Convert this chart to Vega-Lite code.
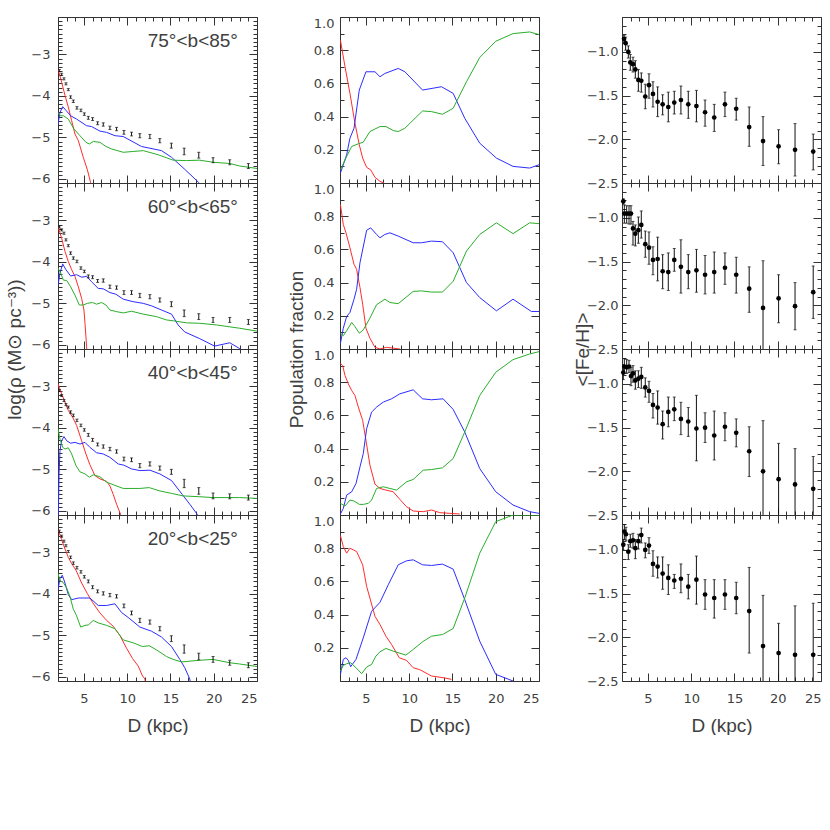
{
"$schema": "https://vega.github.io/schema/vega-lite/v6.json",
"background": "white",
"padding": {"left": 5, "top": 11, "right": 0, "bottom": 0},
"config": {
  "view": {"stroke": null},
  "axis": {"grid": false, "tickSize": -8, "labelOverlap": false, "domainColor": "#333", "tickColor": "#333", "domainWidth": 1, "tickWidth": 1, "labelColor": "#404040", "titleColor": "#404040", "labelFont": "DejaVu Sans", "labelFontSize": 13, "titleFont": "Liberation Sans", "titleFontSize": 19, "titleFontWeight": "normal"},
  "text": {"font": "Liberation Sans"}
},
"datasets": {
"dens": [
{"panel":1,"comp":"thin","D":2.0,"val":-3.35},{"panel":1,"comp":"thin","D":2.42,"val":-3.67},{"panel":1,"comp":"thin","D":2.81,"val":-3.99},{"panel":1,"comp":"thin","D":3.19,"val":-4.27},{"panel":1,"comp":"thin","D":3.58,"val":-4.6},{"panel":1,"comp":"thin","D":3.96,"val":-4.92},{"panel":1,"comp":"thin","D":4.35,"val":-5.08},{"panel":1,"comp":"thin","D":4.92,"val":-5.48},{"panel":1,"comp":"thin","D":5.38,"val":-5.77},{"panel":1,"comp":"thin","D":5.77,"val":-6.09},{"panel":1,"comp":"thin","D":5.85,"val":-6.2},
{"panel":1,"comp":"thick","D":2.0,"val":-4.68},{"panel":1,"comp":"thick","D":2.23,"val":-4.4},{"panel":1,"comp":"thick","D":2.54,"val":-4.26},{"panel":1,"comp":"thick","D":2.92,"val":-4.35},{"panel":1,"comp":"thick","D":3.46,"val":-4.48},{"panel":1,"comp":"thick","D":4.15,"val":-4.56},{"panel":1,"comp":"thick","D":5.31,"val":-4.72},{"panel":1,"comp":"thick","D":5.88,"val":-4.74},{"panel":1,"comp":"thick","D":6.85,"val":-4.85},{"panel":1,"comp":"thick","D":7.62,"val":-4.88},{"panel":1,"comp":"thick","D":8.58,"val":-4.96},{"panel":1,"comp":"thick","D":9.54,"val":-4.98},{"panel":1,"comp":"thick","D":11.65,"val":-5.22},{"panel":1,"comp":"thick","D":13.96,"val":-5.32},{"panel":1,"comp":"thick","D":15.12,"val":-5.48},{"panel":1,"comp":"thick","D":16.65,"val":-5.77},{"panel":1,"comp":"thick","D":18.27,"val":-6.09},{"panel":1,"comp":"thick","D":18.4,"val":-6.2},
{"panel":1,"comp":"halo","D":2.0,"val":-4.4},{"panel":1,"comp":"halo","D":2.23,"val":-4.48},{"panel":1,"comp":"halo","D":2.62,"val":-4.48},{"panel":1,"comp":"halo","D":3.19,"val":-4.56},{"panel":1,"comp":"halo","D":3.85,"val":-4.8},{"panel":1,"comp":"halo","D":4.54,"val":-4.96},{"panel":1,"comp":"halo","D":5.23,"val":-5.12},{"panel":1,"comp":"halo","D":5.62,"val":-5.16},{"panel":1,"comp":"halo","D":6.08,"val":-5.1},{"panel":1,"comp":"halo","D":6.85,"val":-5.12},{"panel":1,"comp":"halo","D":7.54,"val":-5.22},{"panel":1,"comp":"halo","D":8.19,"val":-5.28},{"panel":1,"comp":"halo","D":9.54,"val":-5.36},{"panel":1,"comp":"halo","D":10.69,"val":-5.34},{"panel":1,"comp":"halo","D":11.85,"val":-5.32},{"panel":1,"comp":"halo","D":13.58,"val":-5.42},{"panel":1,"comp":"halo","D":15.31,"val":-5.55},{"panel":1,"comp":"halo","D":16.85,"val":-5.56},{"panel":1,"comp":"halo","D":18.38,"val":-5.55},{"panel":1,"comp":"halo","D":19.92,"val":-5.6},{"panel":1,"comp":"halo","D":21.85,"val":-5.63},{"panel":1,"comp":"halo","D":23.0,"val":-5.69},{"panel":1,"comp":"halo","D":25.0,"val":-5.75},
{"panel":2,"comp":"thin","D":2.0,"val":-3.15},{"panel":2,"comp":"thin","D":2.42,"val":-3.43},{"panel":2,"comp":"thin","D":2.81,"val":-3.75},{"panel":2,"comp":"thin","D":3.19,"val":-3.99},{"panel":2,"comp":"thin","D":3.58,"val":-4.19},{"panel":2,"comp":"thin","D":3.96,"val":-4.35},{"panel":2,"comp":"thin","D":4.35,"val":-4.6},{"panel":2,"comp":"thin","D":4.73,"val":-4.88},{"panel":2,"comp":"thin","D":5.0,"val":-5.16},{"panel":2,"comp":"thin","D":5.12,"val":-5.48},{"panel":2,"comp":"thin","D":5.23,"val":-5.81},{"panel":2,"comp":"thin","D":5.31,"val":-6.05},{"panel":2,"comp":"thin","D":5.35,"val":-6.2},
{"panel":2,"comp":"thick","D":2.0,"val":-4.56},{"panel":2,"comp":"thick","D":2.23,"val":-4.27},{"panel":2,"comp":"thick","D":2.54,"val":-4.05},{"panel":2,"comp":"thick","D":2.92,"val":-4.19},{"panel":2,"comp":"thick","D":3.46,"val":-4.34},{"panel":2,"comp":"thick","D":4.15,"val":-4.31},{"panel":2,"comp":"thick","D":4.73,"val":-4.37},{"panel":2,"comp":"thick","D":5.31,"val":-4.35},{"panel":2,"comp":"thick","D":5.88,"val":-4.48},{"panel":2,"comp":"thick","D":6.65,"val":-4.64},{"panel":2,"comp":"thick","D":7.23,"val":-4.65},{"panel":2,"comp":"thick","D":8.0,"val":-4.74},{"panel":2,"comp":"thick","D":8.69,"val":-4.78},{"panel":2,"comp":"thick","D":9.54,"val":-4.9},{"panel":2,"comp":"thick","D":10.69,"val":-4.96},{"panel":2,"comp":"thick","D":11.85,"val":-5.0},{"panel":2,"comp":"thick","D":12.81,"val":-5.06},{"panel":2,"comp":"thick","D":13.96,"val":-5.16},{"panel":2,"comp":"thick","D":15.12,"val":-5.26},{"panel":2,"comp":"thick","D":15.88,"val":-5.52},{"panel":2,"comp":"thick","D":16.65,"val":-5.69},{"panel":2,"comp":"thick","D":18.38,"val":-5.85},{"panel":2,"comp":"thick","D":20.1,"val":-6.03},{"panel":2,"comp":"thick","D":21.85,"val":-5.95},{"panel":2,"comp":"thick","D":23.0,"val":-6.09},{"panel":2,"comp":"thick","D":24.0,"val":-6.2},
{"panel":2,"comp":"halo","D":2.0,"val":-4.15},{"panel":2,"comp":"halo","D":2.31,"val":-4.27},{"panel":2,"comp":"halo","D":2.62,"val":-4.44},{"panel":2,"comp":"halo","D":3.0,"val":-4.45},{"panel":2,"comp":"halo","D":3.46,"val":-4.6},{"panel":2,"comp":"halo","D":3.96,"val":-4.8},{"panel":2,"comp":"halo","D":4.46,"val":-5.04},{"panel":2,"comp":"halo","D":4.92,"val":-5.04},{"panel":2,"comp":"halo","D":5.38,"val":-5.0},{"panel":2,"comp":"halo","D":6.0,"val":-4.98},{"panel":2,"comp":"halo","D":6.46,"val":-5.02},{"panel":2,"comp":"halo","D":7.04,"val":-4.98},{"panel":2,"comp":"halo","D":7.54,"val":-5.04},{"panel":2,"comp":"halo","D":8.0,"val":-5.16},{"panel":2,"comp":"halo","D":8.77,"val":-5.2},{"panel":2,"comp":"halo","D":9.54,"val":-5.23},{"panel":2,"comp":"halo","D":10.5,"val":-5.19},{"panel":2,"comp":"halo","D":11.85,"val":-5.26},{"panel":2,"comp":"halo","D":13.38,"val":-5.32},{"panel":2,"comp":"halo","D":14.54,"val":-5.4},{"panel":2,"comp":"halo","D":15.31,"val":-5.42},{"panel":2,"comp":"halo","D":16.85,"val":-5.47},{"panel":2,"comp":"halo","D":18.38,"val":-5.48},{"panel":2,"comp":"halo","D":20.31,"val":-5.52},{"panel":2,"comp":"halo","D":23.0,"val":-5.6},{"panel":2,"comp":"halo","D":25.0,"val":-5.67},
{"panel":3,"comp":"thin","D":2.0,"val":-2.94},{"panel":3,"comp":"thin","D":2.42,"val":-3.18},{"panel":3,"comp":"thin","D":2.81,"val":-3.38},{"panel":3,"comp":"thin","D":3.19,"val":-3.58},{"panel":3,"comp":"thin","D":3.69,"val":-3.74},{"panel":3,"comp":"thin","D":4.15,"val":-3.94},{"panel":3,"comp":"thin","D":4.73,"val":-4.31},{"panel":3,"comp":"thin","D":5.23,"val":-4.63},{"panel":3,"comp":"thin","D":5.69,"val":-4.89},{"panel":3,"comp":"thin","D":6.27,"val":-5.15},{"panel":3,"comp":"thin","D":6.85,"val":-5.23},{"panel":3,"comp":"thin","D":7.62,"val":-5.29},{"panel":3,"comp":"thin","D":8.0,"val":-5.4},{"panel":3,"comp":"thin","D":8.38,"val":-5.6},{"panel":3,"comp":"thin","D":8.77,"val":-5.84},{"panel":3,"comp":"thin","D":9.23,"val":-6.08},{"panel":3,"comp":"thin","D":9.3,"val":-6.2},
{"panel":3,"comp":"thick","D":2.0,"val":-6.2},{"panel":3,"comp":"thick","D":2.04,"val":-6.08},{"panel":3,"comp":"thick","D":2.12,"val":-5.11},{"panel":3,"comp":"thick","D":2.23,"val":-4.55},{"panel":3,"comp":"thick","D":2.42,"val":-4.31},{"panel":3,"comp":"thick","D":2.69,"val":-4.21},{"panel":3,"comp":"thick","D":3.0,"val":-4.31},{"panel":3,"comp":"thick","D":3.46,"val":-4.37},{"panel":3,"comp":"thick","D":3.96,"val":-4.35},{"panel":3,"comp":"thick","D":4.54,"val":-4.39},{"panel":3,"comp":"thick","D":5.12,"val":-4.35},{"panel":3,"comp":"thick","D":5.69,"val":-4.47},{"panel":3,"comp":"thick","D":6.46,"val":-4.6},{"panel":3,"comp":"thick","D":7.23,"val":-4.63},{"panel":3,"comp":"thick","D":8.0,"val":-4.71},{"panel":3,"comp":"thick","D":8.96,"val":-4.87},{"panel":3,"comp":"thick","D":9.62,"val":-4.9},{"panel":3,"comp":"thick","D":10.5,"val":-4.99},{"panel":3,"comp":"thick","D":11.46,"val":-5.03},{"panel":3,"comp":"thick","D":12.62,"val":-5.02},{"panel":3,"comp":"thick","D":13.77,"val":-5.11},{"panel":3,"comp":"thick","D":15.12,"val":-5.27},{"panel":3,"comp":"thick","D":16.38,"val":-5.61},{"panel":3,"comp":"thick","D":17.23,"val":-5.84},{"panel":3,"comp":"thick","D":18.08,"val":-6.08},{"panel":3,"comp":"thick","D":18.2,"val":-6.2},
{"panel":3,"comp":"halo","D":2.0,"val":-4.02},{"panel":3,"comp":"halo","D":2.23,"val":-4.27},{"panel":3,"comp":"halo","D":2.54,"val":-4.47},{"panel":3,"comp":"halo","D":2.81,"val":-4.51},{"panel":3,"comp":"halo","D":3.19,"val":-4.48},{"panel":3,"comp":"halo","D":3.58,"val":-4.63},{"panel":3,"comp":"halo","D":4.08,"val":-4.91},{"panel":3,"comp":"halo","D":4.54,"val":-5.06},{"panel":3,"comp":"halo","D":5.12,"val":-5.11},{"panel":3,"comp":"halo","D":5.62,"val":-5.19},{"panel":3,"comp":"halo","D":6.08,"val":-5.13},{"panel":3,"comp":"halo","D":6.85,"val":-5.18},{"panel":3,"comp":"halo","D":7.62,"val":-5.31},{"panel":3,"comp":"halo","D":8.38,"val":-5.37},{"panel":3,"comp":"halo","D":9.54,"val":-5.46},{"panel":3,"comp":"halo","D":11.46,"val":-5.46},{"panel":3,"comp":"halo","D":12.54,"val":-5.44},{"panel":3,"comp":"halo","D":13.77,"val":-5.52},{"panel":3,"comp":"halo","D":15.12,"val":-5.58},{"panel":3,"comp":"halo","D":16.46,"val":-5.64},{"panel":3,"comp":"halo","D":18.38,"val":-5.66},{"panel":3,"comp":"halo","D":19.92,"val":-5.68},{"panel":3,"comp":"halo","D":21.85,"val":-5.68},{"panel":3,"comp":"halo","D":23.0,"val":-5.68},{"panel":3,"comp":"halo","D":25.0,"val":-5.7},
{"panel":4,"comp":"thin","D":2.0,"val":-2.45},{"panel":4,"comp":"thin","D":2.42,"val":-2.69},{"panel":4,"comp":"thin","D":2.81,"val":-2.92},{"panel":4,"comp":"thin","D":3.19,"val":-3.12},{"panel":4,"comp":"thin","D":3.58,"val":-3.27},{"panel":4,"comp":"thin","D":4.08,"val":-3.43},{"panel":4,"comp":"thin","D":4.73,"val":-3.74},{"panel":4,"comp":"thin","D":5.38,"val":-3.99},{"panel":4,"comp":"thin","D":6.0,"val":-4.21},{"panel":4,"comp":"thin","D":6.85,"val":-4.46},{"panel":4,"comp":"thin","D":7.62,"val":-4.64},{"panel":4,"comp":"thin","D":8.38,"val":-4.78},{"panel":4,"comp":"thin","D":9.15,"val":-5.0},{"panel":4,"comp":"thin","D":9.92,"val":-5.31},{"panel":4,"comp":"thin","D":10.62,"val":-5.56},{"panel":4,"comp":"thin","D":11.27,"val":-5.74},{"panel":4,"comp":"thin","D":11.77,"val":-5.98},{"panel":4,"comp":"thin","D":12.04,"val":-6.05},{"panel":4,"comp":"thin","D":12.15,"val":-6.2},
{"panel":4,"comp":"thick","D":2.0,"val":-3.9},{"panel":4,"comp":"thick","D":2.23,"val":-3.63},{"panel":4,"comp":"thick","D":2.5,"val":-3.55},{"panel":4,"comp":"thick","D":2.81,"val":-3.74},{"panel":4,"comp":"thick","D":3.19,"val":-4.02},{"panel":4,"comp":"thick","D":3.58,"val":-4.14},{"panel":4,"comp":"thick","D":4.35,"val":-4.1},{"panel":4,"comp":"thick","D":5.69,"val":-4.1},{"panel":4,"comp":"thick","D":6.65,"val":-4.28},{"panel":4,"comp":"thick","D":7.62,"val":-4.28},{"panel":4,"comp":"thick","D":8.58,"val":-4.24},{"panel":4,"comp":"thick","D":9.35,"val":-4.45},{"panel":4,"comp":"thick","D":10.12,"val":-4.57},{"panel":4,"comp":"thick","D":11.46,"val":-4.8},{"panel":4,"comp":"thick","D":12.81,"val":-4.9},{"panel":4,"comp":"thick","D":13.96,"val":-5.04},{"panel":4,"comp":"thick","D":15.12,"val":-5.27},{"panel":4,"comp":"thick","D":16.08,"val":-5.58},{"panel":4,"comp":"thick","D":16.65,"val":-5.78},{"panel":4,"comp":"thick","D":17.23,"val":-6.05},{"panel":4,"comp":"thick","D":17.35,"val":-6.2},
{"panel":4,"comp":"halo","D":2.0,"val":-3.51},{"panel":4,"comp":"halo","D":2.23,"val":-3.68},{"panel":4,"comp":"halo","D":2.62,"val":-3.73},{"panel":4,"comp":"halo","D":3.0,"val":-3.86},{"panel":4,"comp":"halo","D":3.38,"val":-4.06},{"panel":4,"comp":"halo","D":3.77,"val":-4.37},{"panel":4,"comp":"halo","D":4.15,"val":-4.53},{"panel":4,"comp":"halo","D":4.62,"val":-4.8},{"panel":4,"comp":"halo","D":5.12,"val":-4.76},{"panel":4,"comp":"halo","D":5.5,"val":-4.75},{"panel":4,"comp":"halo","D":6.08,"val":-4.64},{"panel":4,"comp":"halo","D":6.65,"val":-4.7},{"panel":4,"comp":"halo","D":7.62,"val":-4.76},{"panel":4,"comp":"halo","D":8.58,"val":-4.84},{"panel":4,"comp":"halo","D":9.54,"val":-5.11},{"panel":4,"comp":"halo","D":10.69,"val":-5.18},{"panel":4,"comp":"halo","D":11.77,"val":-5.27},{"panel":4,"comp":"halo","D":12.54,"val":-5.25},{"panel":4,"comp":"halo","D":13.38,"val":-5.35},{"panel":4,"comp":"halo","D":14.54,"val":-5.51},{"panel":4,"comp":"halo","D":15.31,"val":-5.58},{"panel":4,"comp":"halo","D":16.27,"val":-5.64},{"panel":4,"comp":"halo","D":18.38,"val":-5.6},{"panel":4,"comp":"halo","D":19.92,"val":-5.58},{"panel":4,"comp":"halo","D":21.85,"val":-5.66},{"panel":4,"comp":"halo","D":23.0,"val":-5.69},{"panel":4,"comp":"halo","D":25.0,"val":-5.75}
],
"denserr": [
{"panel":1,"D":2.15,"val":-3.39,"err":0.025},{"panel":1,"D":2.42,"val":-3.48,"err":0.025},{"panel":1,"D":2.69,"val":-3.59,"err":0.025},{"panel":1,"D":2.92,"val":-3.71,"err":0.025},{"panel":1,"D":3.19,"val":-3.85,"err":0.025},{"panel":1,"D":3.46,"val":-4.03,"err":0.03},{"panel":1,"D":3.77,"val":-4.13,"err":0.03},{"panel":1,"D":4.19,"val":-4.29,"err":0.03},{"panel":1,"D":4.65,"val":-4.35,"err":0.03},{"panel":1,"D":5.04,"val":-4.44,"err":0.03},{"panel":1,"D":5.5,"val":-4.53,"err":0.035},{"panel":1,"D":6.0,"val":-4.56,"err":0.035},{"panel":1,"D":6.58,"val":-4.66,"err":0.035},{"panel":1,"D":7.23,"val":-4.69,"err":0.04},{"panel":1,"D":8.0,"val":-4.77,"err":0.04},{"panel":1,"D":8.77,"val":-4.8,"err":0.04},{"panel":1,"D":9.62,"val":-4.88,"err":0.045},{"panel":1,"D":10.5,"val":-4.92,"err":0.045},{"panel":1,"D":11.46,"val":-4.96,"err":0.05},{"panel":1,"D":12.62,"val":-4.98,"err":0.05},{"panel":1,"D":13.77,"val":-5.08,"err":0.05},{"panel":1,"D":15.1,"val":-5.2,"err":0.06},{"panel":1,"D":16.58,"val":-5.34,"err":0.08},{"panel":1,"D":18.27,"val":-5.43,"err":0.07},{"panel":1,"D":19.92,"val":-5.55,"err":0.06},{"panel":1,"D":21.85,"val":-5.6,"err":0.06},{"panel":1,"D":24.0,"val":-5.69,"err":0.06},
{"panel":2,"D":2.15,"val":-3.16,"err":0.025},{"panel":2,"D":2.42,"val":-3.23,"err":0.025},{"panel":2,"D":2.69,"val":-3.31,"err":0.025},{"panel":2,"D":2.92,"val":-3.47,"err":0.025},{"panel":2,"D":3.19,"val":-3.61,"err":0.025},{"panel":2,"D":3.46,"val":-3.79,"err":0.03},{"panel":2,"D":3.77,"val":-3.91,"err":0.03},{"panel":2,"D":4.19,"val":-3.99,"err":0.03},{"panel":2,"D":4.65,"val":-4.15,"err":0.03},{"panel":2,"D":5.04,"val":-4.23,"err":0.03},{"panel":2,"D":5.5,"val":-4.35,"err":0.035},{"panel":2,"D":6.0,"val":-4.37,"err":0.035},{"panel":2,"D":6.58,"val":-4.46,"err":0.035},{"panel":2,"D":7.23,"val":-4.45,"err":0.04},{"panel":2,"D":8.0,"val":-4.6,"err":0.04},{"panel":2,"D":8.77,"val":-4.62,"err":0.04},{"panel":2,"D":9.62,"val":-4.74,"err":0.045},{"panel":2,"D":10.5,"val":-4.74,"err":0.045},{"panel":2,"D":11.46,"val":-4.81,"err":0.05},{"panel":2,"D":12.62,"val":-4.84,"err":0.05},{"panel":2,"D":13.77,"val":-4.92,"err":0.05},{"panel":2,"D":15.1,"val":-5.02,"err":0.06},{"panel":2,"D":16.58,"val":-5.24,"err":0.08},{"panel":2,"D":18.27,"val":-5.32,"err":0.07},{"panel":2,"D":19.92,"val":-5.4,"err":0.06},{"panel":2,"D":21.85,"val":-5.4,"err":0.06},{"panel":2,"D":24.0,"val":-5.45,"err":0.06},
{"panel":3,"D":2.15,"val":-3.1,"err":0.025},{"panel":3,"D":2.42,"val":-3.22,"err":0.025},{"panel":3,"D":2.69,"val":-3.34,"err":0.025},{"panel":3,"D":2.92,"val":-3.44,"err":0.025},{"panel":3,"D":3.19,"val":-3.5,"err":0.025},{"panel":3,"D":3.46,"val":-3.62,"err":0.03},{"panel":3,"D":3.77,"val":-3.7,"err":0.03},{"panel":3,"D":4.19,"val":-3.82,"err":0.03},{"panel":3,"D":4.65,"val":-3.94,"err":0.03},{"panel":3,"D":5.04,"val":-4.05,"err":0.03},{"panel":3,"D":5.5,"val":-4.17,"err":0.035},{"panel":3,"D":6.0,"val":-4.29,"err":0.035},{"panel":3,"D":6.58,"val":-4.4,"err":0.035},{"panel":3,"D":7.23,"val":-4.45,"err":0.04},{"panel":3,"D":8.0,"val":-4.51,"err":0.04},{"panel":3,"D":8.77,"val":-4.57,"err":0.04},{"panel":3,"D":9.62,"val":-4.75,"err":0.045},{"panel":3,"D":10.5,"val":-4.77,"err":0.045},{"panel":3,"D":11.46,"val":-4.91,"err":0.05},{"panel":3,"D":12.62,"val":-4.87,"err":0.05},{"panel":3,"D":13.77,"val":-4.97,"err":0.05},{"panel":3,"D":15.1,"val":-5.06,"err":0.06},{"panel":3,"D":16.58,"val":-5.34,"err":0.1},{"panel":3,"D":18.27,"val":-5.52,"err":0.08},{"panel":3,"D":19.92,"val":-5.64,"err":0.07},{"panel":3,"D":21.85,"val":-5.65,"err":0.06},{"panel":3,"D":24.0,"val":-5.68,"err":0.06},
{"panel":4,"D":2.15,"val":-2.49,"err":0.025},{"panel":4,"D":2.42,"val":-2.61,"err":0.025},{"panel":4,"D":2.69,"val":-2.73,"err":0.025},{"panel":4,"D":2.92,"val":-2.84,"err":0.025},{"panel":4,"D":3.19,"val":-2.98,"err":0.025},{"panel":4,"D":3.46,"val":-3.12,"err":0.03},{"panel":4,"D":3.77,"val":-3.26,"err":0.03},{"panel":4,"D":4.19,"val":-3.37,"err":0.03},{"panel":4,"D":4.65,"val":-3.47,"err":0.03},{"panel":4,"D":5.04,"val":-3.59,"err":0.03},{"panel":4,"D":5.5,"val":-3.7,"err":0.035},{"panel":4,"D":6.0,"val":-3.84,"err":0.035},{"panel":4,"D":6.58,"val":-3.94,"err":0.035},{"panel":4,"D":7.23,"val":-3.99,"err":0.04},{"panel":4,"D":8.0,"val":-4.03,"err":0.04},{"panel":4,"D":8.77,"val":-4.06,"err":0.04},{"panel":4,"D":9.62,"val":-4.29,"err":0.045},{"panel":4,"D":10.5,"val":-4.46,"err":0.045},{"panel":4,"D":11.46,"val":-4.64,"err":0.05},{"panel":4,"D":12.62,"val":-4.68,"err":0.05},{"panel":4,"D":13.77,"val":-4.84,"err":0.05},{"panel":4,"D":15.1,"val":-5.08,"err":0.07},{"panel":4,"D":16.58,"val":-5.33,"err":0.1},{"panel":4,"D":18.27,"val":-5.51,"err":0.08},{"panel":4,"D":19.92,"val":-5.58,"err":0.07},{"panel":4,"D":21.85,"val":-5.66,"err":0.06},{"panel":4,"D":24.0,"val":-5.72,"err":0.06}
],
"frac": [
{"panel":1,"comp":"thin","D":2.05,"val":0.86},{"panel":1,"comp":"thin","D":2.58,"val":0.7},{"panel":1,"comp":"thin","D":3.15,"val":0.54},{"panel":1,"comp":"thin","D":3.73,"val":0.36},{"panel":1,"comp":"thin","D":4.23,"val":0.23},{"panel":1,"comp":"thin","D":4.62,"val":0.15},{"panel":1,"comp":"thin","D":5.08,"val":0.094},{"panel":1,"comp":"thin","D":5.54,"val":0.08},{"panel":1,"comp":"thin","D":6.04,"val":0.034},{"panel":1,"comp":"thin","D":6.62,"val":0.01},{"panel":1,"comp":"thin","D":7.08,"val":0.0},
{"panel":1,"comp":"thick","D":2.05,"val":0.06},{"panel":1,"comp":"thick","D":2.77,"val":0.17},{"panel":1,"comp":"thick","D":3.15,"val":0.27},{"panel":1,"comp":"thick","D":3.62,"val":0.33},{"panel":1,"comp":"thick","D":4.23,"val":0.56},{"panel":1,"comp":"thick","D":5.0,"val":0.67},{"panel":1,"comp":"thick","D":6.04,"val":0.67},{"panel":1,"comp":"thick","D":6.62,"val":0.64},{"panel":1,"comp":"thick","D":7.19,"val":0.66},{"panel":1,"comp":"thick","D":8.73,"val":0.69},{"panel":1,"comp":"thick","D":9.5,"val":0.67},{"panel":1,"comp":"thick","D":11.54,"val":0.56},{"panel":1,"comp":"thick","D":13.73,"val":0.58},{"panel":1,"comp":"thick","D":15.08,"val":0.54},{"panel":1,"comp":"thick","D":16.42,"val":0.39},{"panel":1,"comp":"thick","D":18.15,"val":0.24},{"panel":1,"comp":"thick","D":20.08,"val":0.15},{"panel":1,"comp":"thick","D":22.0,"val":0.1},{"panel":1,"comp":"thick","D":23.92,"val":0.09},{"panel":1,"comp":"thick","D":25.0,"val":0.11},
{"panel":1,"comp":"halo","D":2.05,"val":0.08},{"panel":1,"comp":"halo","D":2.77,"val":0.16},{"panel":1,"comp":"halo","D":3.35,"val":0.22},{"panel":1,"comp":"halo","D":4.12,"val":0.236},{"panel":1,"comp":"halo","D":4.69,"val":0.246},{"panel":1,"comp":"halo","D":5.46,"val":0.31},{"panel":1,"comp":"halo","D":6.62,"val":0.34},{"panel":1,"comp":"halo","D":7.31,"val":0.34},{"panel":1,"comp":"halo","D":8.15,"val":0.316},{"panel":1,"comp":"halo","D":8.73,"val":0.31},{"panel":1,"comp":"halo","D":9.5,"val":0.33},{"panel":1,"comp":"halo","D":11.54,"val":0.434},{"panel":1,"comp":"halo","D":12.58,"val":0.43},{"panel":1,"comp":"halo","D":13.85,"val":0.414},{"panel":1,"comp":"halo","D":15.08,"val":0.45},{"panel":1,"comp":"halo","D":16.62,"val":0.61},{"panel":1,"comp":"halo","D":18.15,"val":0.756},{"panel":1,"comp":"halo","D":20.0,"val":0.854},{"panel":1,"comp":"halo","D":22.0,"val":0.9},{"panel":1,"comp":"halo","D":23.92,"val":0.91},{"panel":1,"comp":"halo","D":25.0,"val":0.894},
{"panel":2,"comp":"thin","D":2.05,"val":0.87},{"panel":2,"comp":"thin","D":2.38,"val":0.75},{"panel":2,"comp":"thin","D":2.69,"val":0.7},{"panel":2,"comp":"thin","D":3.15,"val":0.61},{"panel":2,"comp":"thin","D":3.62,"val":0.51},{"panel":2,"comp":"thin","D":3.92,"val":0.48},{"panel":2,"comp":"thin","D":4.31,"val":0.37},{"panel":2,"comp":"thin","D":4.62,"val":0.27},{"panel":2,"comp":"thin","D":5.0,"val":0.125},{"panel":2,"comp":"thin","D":5.46,"val":0.065},{"panel":2,"comp":"thin","D":6.04,"val":0.01},{"panel":2,"comp":"thin","D":6.62,"val":0.0},{"panel":2,"comp":"thin","D":7.38,"val":0.01},{"panel":2,"comp":"thin","D":8.15,"val":0.005},{"panel":2,"comp":"thin","D":8.92,"val":0.0},
{"panel":2,"comp":"thick","D":2.05,"val":0.034},{"panel":2,"comp":"thick","D":2.38,"val":0.125},{"panel":2,"comp":"thick","D":2.77,"val":0.196},{"panel":2,"comp":"thick","D":3.15,"val":0.22},{"panel":2,"comp":"thick","D":3.62,"val":0.3},{"panel":2,"comp":"thick","D":3.92,"val":0.36},{"panel":2,"comp":"thick","D":4.31,"val":0.52},{"panel":2,"comp":"thick","D":5.08,"val":0.715},{"panel":2,"comp":"thick","D":5.54,"val":0.73},{"panel":2,"comp":"thick","D":6.23,"val":0.69},{"panel":2,"comp":"thick","D":6.62,"val":0.67},{"panel":2,"comp":"thick","D":7.19,"val":0.69},{"panel":2,"comp":"thick","D":7.77,"val":0.7},{"panel":2,"comp":"thick","D":8.73,"val":0.68},{"panel":2,"comp":"thick","D":10.46,"val":0.64},{"panel":2,"comp":"thick","D":11.42,"val":0.64},{"panel":2,"comp":"thick","D":12.58,"val":0.65},{"panel":2,"comp":"thick","D":13.85,"val":0.646},{"panel":2,"comp":"thick","D":15.08,"val":0.58},{"panel":2,"comp":"thick","D":16.62,"val":0.4},{"panel":2,"comp":"thick","D":18.15,"val":0.31},{"panel":2,"comp":"thick","D":20.08,"val":0.23},{"panel":2,"comp":"thick","D":22.0,"val":0.3},{"panel":2,"comp":"thick","D":24.12,"val":0.226},{"panel":2,"comp":"thick","D":25.0,"val":0.226},
{"panel":2,"comp":"halo","D":2.05,"val":0.095},{"panel":2,"comp":"halo","D":2.38,"val":0.08},{"panel":2,"comp":"halo","D":2.77,"val":0.11},{"panel":2,"comp":"halo","D":3.35,"val":0.16},{"panel":2,"comp":"halo","D":3.73,"val":0.135},{"panel":2,"comp":"halo","D":4.23,"val":0.095},{"panel":2,"comp":"halo","D":4.69,"val":0.115},{"panel":2,"comp":"halo","D":5.46,"val":0.186},{"panel":2,"comp":"halo","D":6.23,"val":0.267},{"panel":2,"comp":"halo","D":7.19,"val":0.3},{"panel":2,"comp":"halo","D":7.77,"val":0.28},{"panel":2,"comp":"halo","D":8.73,"val":0.273},{"panel":2,"comp":"halo","D":10.46,"val":0.347},{"panel":2,"comp":"halo","D":11.42,"val":0.35},{"panel":2,"comp":"halo","D":12.58,"val":0.343},{"panel":2,"comp":"halo","D":13.85,"val":0.343},{"panel":2,"comp":"halo","D":15.08,"val":0.408},{"panel":2,"comp":"halo","D":16.62,"val":0.59},{"panel":2,"comp":"halo","D":18.15,"val":0.69},{"panel":2,"comp":"halo","D":20.08,"val":0.76},{"panel":2,"comp":"halo","D":22.0,"val":0.695},{"panel":2,"comp":"halo","D":23.92,"val":0.76},{"panel":2,"comp":"halo","D":25.0,"val":0.755},
{"panel":3,"comp":"thin","D":2.05,"val":0.914},{"panel":3,"comp":"thin","D":2.31,"val":0.9},{"panel":3,"comp":"thin","D":2.58,"val":0.84},{"panel":3,"comp":"thin","D":2.96,"val":0.79},{"panel":3,"comp":"thin","D":3.35,"val":0.75},{"panel":3,"comp":"thin","D":3.73,"val":0.72},{"panel":3,"comp":"thin","D":4.12,"val":0.65},{"panel":3,"comp":"thin","D":4.62,"val":0.57},{"panel":3,"comp":"thin","D":5.0,"val":0.45},{"panel":3,"comp":"thin","D":5.46,"val":0.3},{"panel":3,"comp":"thin","D":6.04,"val":0.186},{"panel":3,"comp":"thin","D":6.62,"val":0.16},{"panel":3,"comp":"thin","D":7.31,"val":0.15},{"panel":3,"comp":"thin","D":8.15,"val":0.14},{"panel":3,"comp":"thin","D":8.92,"val":0.094},{"panel":3,"comp":"thin","D":9.69,"val":0.05},{"panel":3,"comp":"thin","D":10.46,"val":0.024},{"panel":3,"comp":"thin","D":11.62,"val":0.02},{"panel":3,"comp":"thin","D":12.58,"val":0.03},{"panel":3,"comp":"thin","D":13.54,"val":0.014},{"panel":3,"comp":"thin","D":14.69,"val":0.01},{"panel":3,"comp":"thin","D":15.85,"val":0.006},
{"panel":3,"comp":"thick","D":2.05,"val":0.006},{"panel":3,"comp":"thick","D":2.38,"val":0.04},{"panel":3,"comp":"thick","D":2.77,"val":0.12},{"panel":3,"comp":"thick","D":3.35,"val":0.14},{"panel":3,"comp":"thick","D":3.85,"val":0.19},{"panel":3,"comp":"thick","D":4.31,"val":0.29},{"panel":3,"comp":"thick","D":4.69,"val":0.37},{"panel":3,"comp":"thick","D":5.08,"val":0.52},{"panel":3,"comp":"thick","D":5.65,"val":0.62},{"panel":3,"comp":"thick","D":6.23,"val":0.65},{"panel":3,"comp":"thick","D":7.0,"val":0.68},{"panel":3,"comp":"thick","D":7.96,"val":0.7},{"panel":3,"comp":"thick","D":8.92,"val":0.73},{"panel":3,"comp":"thick","D":10.46,"val":0.754},{"panel":3,"comp":"thick","D":11.54,"val":0.7},{"panel":3,"comp":"thick","D":12.58,"val":0.694},{"panel":3,"comp":"thick","D":13.92,"val":0.7},{"panel":3,"comp":"thick","D":15.08,"val":0.636},{"panel":3,"comp":"thick","D":16.42,"val":0.5},{"panel":3,"comp":"thick","D":18.15,"val":0.28},{"panel":3,"comp":"thick","D":20.0,"val":0.14},{"panel":3,"comp":"thick","D":22.0,"val":0.06},{"panel":3,"comp":"thick","D":23.92,"val":0.02},{"panel":3,"comp":"thick","D":25.0,"val":0.01},
{"panel":3,"comp":"halo","D":2.05,"val":0.07},{"panel":3,"comp":"halo","D":2.58,"val":0.054},{"panel":3,"comp":"halo","D":3.15,"val":0.09},{"panel":3,"comp":"halo","D":3.62,"val":0.084},{"panel":3,"comp":"halo","D":4.23,"val":0.064},{"panel":3,"comp":"halo","D":4.69,"val":0.064},{"panel":3,"comp":"halo","D":5.27,"val":0.07},{"panel":3,"comp":"halo","D":5.65,"val":0.09},{"panel":3,"comp":"halo","D":6.23,"val":0.16},{"panel":3,"comp":"halo","D":7.0,"val":0.17},{"panel":3,"comp":"halo","D":7.77,"val":0.16},{"panel":3,"comp":"halo","D":8.54,"val":0.15},{"panel":3,"comp":"halo","D":9.69,"val":0.2},{"panel":3,"comp":"halo","D":10.46,"val":0.214},{"panel":3,"comp":"halo","D":11.62,"val":0.27},{"panel":3,"comp":"halo","D":12.58,"val":0.274},{"panel":3,"comp":"halo","D":13.85,"val":0.284},{"panel":3,"comp":"halo","D":15.08,"val":0.34},{"panel":3,"comp":"halo","D":16.42,"val":0.5},{"panel":3,"comp":"halo","D":18.15,"val":0.72},{"panel":3,"comp":"halo","D":20.0,"val":0.86},{"panel":3,"comp":"halo","D":22.0,"val":0.936},{"panel":3,"comp":"halo","D":23.92,"val":0.97},{"panel":3,"comp":"halo","D":25.0,"val":0.984},
{"panel":4,"comp":"thin","D":2.05,"val":0.876},{"panel":4,"comp":"thin","D":2.38,"val":0.81},{"panel":4,"comp":"thin","D":2.77,"val":0.77},{"panel":4,"comp":"thin","D":3.15,"val":0.8},{"panel":4,"comp":"thin","D":3.54,"val":0.79},{"panel":4,"comp":"thin","D":3.92,"val":0.78},{"panel":4,"comp":"thin","D":4.62,"val":0.7},{"panel":4,"comp":"thin","D":5.08,"val":0.57},{"panel":4,"comp":"thin","D":6.04,"val":0.39},{"panel":4,"comp":"thin","D":6.62,"val":0.34},{"panel":4,"comp":"thin","D":7.31,"val":0.27},{"panel":4,"comp":"thin","D":7.96,"val":0.22},{"panel":4,"comp":"thin","D":8.85,"val":0.14},{"panel":4,"comp":"thin","D":9.69,"val":0.124},{"panel":4,"comp":"thin","D":10.46,"val":0.08},{"panel":4,"comp":"thin","D":11.23,"val":0.068},{"panel":4,"comp":"thin","D":12.58,"val":0.03},{"panel":4,"comp":"thin","D":13.92,"val":0.02},{"panel":4,"comp":"thin","D":14.88,"val":0.01},
{"panel":4,"comp":"thick","D":2.05,"val":0.04},{"panel":4,"comp":"thick","D":2.38,"val":0.13},{"panel":4,"comp":"thick","D":2.69,"val":0.14},{"panel":4,"comp":"thick","D":2.96,"val":0.124},{"panel":4,"comp":"thick","D":3.23,"val":0.086},{"panel":4,"comp":"thick","D":3.85,"val":0.13},{"panel":4,"comp":"thick","D":4.69,"val":0.26},{"panel":4,"comp":"thick","D":5.65,"val":0.42},{"panel":4,"comp":"thick","D":6.62,"val":0.474},{"panel":4,"comp":"thick","D":7.58,"val":0.58},{"panel":4,"comp":"thick","D":8.73,"val":0.7},{"panel":4,"comp":"thick","D":9.69,"val":0.724},{"panel":4,"comp":"thick","D":10.46,"val":0.73},{"panel":4,"comp":"thick","D":11.54,"val":0.7},{"panel":4,"comp":"thick","D":12.58,"val":0.696},{"panel":4,"comp":"thick","D":13.85,"val":0.704},{"panel":4,"comp":"thick","D":15.08,"val":0.674},{"panel":4,"comp":"thick","D":16.42,"val":0.49},{"panel":4,"comp":"thick","D":18.15,"val":0.24},{"panel":4,"comp":"thick","D":20.0,"val":0.04},{"panel":4,"comp":"thick","D":22.0,"val":0.0},
{"panel":4,"comp":"halo","D":2.05,"val":0.06},{"panel":4,"comp":"halo","D":2.38,"val":0.094},{"panel":4,"comp":"halo","D":2.77,"val":0.104},{"panel":4,"comp":"halo","D":3.23,"val":0.11},{"panel":4,"comp":"halo","D":3.85,"val":0.08},{"panel":4,"comp":"halo","D":4.5,"val":0.044},{"panel":4,"comp":"halo","D":5.08,"val":0.084},{"panel":4,"comp":"halo","D":5.65,"val":0.1},{"panel":4,"comp":"halo","D":6.15,"val":0.15},{"panel":4,"comp":"halo","D":6.62,"val":0.176},{"panel":4,"comp":"halo","D":7.31,"val":0.196},{"panel":4,"comp":"halo","D":8.15,"val":0.18},{"panel":4,"comp":"halo","D":9.62,"val":0.156},{"panel":4,"comp":"halo","D":10.46,"val":0.19},{"panel":4,"comp":"halo","D":11.54,"val":0.236},{"panel":4,"comp":"halo","D":12.58,"val":0.27},{"panel":4,"comp":"halo","D":13.85,"val":0.28},{"panel":4,"comp":"halo","D":15.08,"val":0.316},{"panel":4,"comp":"halo","D":16.42,"val":0.5},{"panel":4,"comp":"halo","D":18.15,"val":0.77},{"panel":4,"comp":"halo","D":20.0,"val":0.96},{"panel":4,"comp":"halo","D":22.0,"val":1.0},{"panel":4,"comp":"halo","D":25.0,"val":1.0}
],
"feh": [
{"panel":1,"D":2.23,"feh":-0.85,"hi":-0.81,"lo":-0.89},{"panel":1,"D":2.42,"feh":-0.9,"hi":-0.83,"lo":-0.98},{"panel":1,"D":2.73,"feh":-1.0,"hi":-0.93,"lo":-1.07},{"panel":1,"D":2.96,"feh":-1.12,"hi":-1.03,"lo":-1.21},{"panel":1,"D":3.27,"feh":-1.14,"hi":-1.06,"lo":-1.23},{"panel":1,"D":3.54,"feh":-1.2,"hi":-1.1,"lo":-1.3},{"panel":1,"D":3.89,"feh":-1.32,"hi":-1.2,"lo":-1.45},{"panel":1,"D":4.23,"feh":-1.33,"hi":-1.24,"lo":-1.46},{"panel":1,"D":4.69,"feh":-1.51,"hi":-1.37,"lo":-1.65},{"panel":1,"D":5.12,"feh":-1.38,"hi":-1.25,"lo":-1.53},{"panel":1,"D":5.58,"feh":-1.48,"hi":-1.34,"lo":-1.63},{"panel":1,"D":6.12,"feh":-1.57,"hi":-1.4,"lo":-1.74},{"panel":1,"D":6.7,"feh":-1.6,"hi":-1.49,"lo":-1.72},{"panel":1,"D":7.35,"feh":-1.63,"hi":-1.46,"lo":-1.8},{"panel":1,"D":8.04,"feh":-1.58,"hi":-1.45,"lo":-1.71},{"panel":1,"D":8.81,"feh":-1.55,"hi":-1.39,"lo":-1.71},{"panel":1,"D":9.66,"feh":-1.6,"hi":-1.45,"lo":-1.76},{"panel":1,"D":10.6,"feh":-1.62,"hi":-1.44,"lo":-1.8},{"panel":1,"D":11.6,"feh":-1.69,"hi":-1.55,"lo":-1.85},{"panel":1,"D":12.66,"feh":-1.75,"hi":-1.6,"lo":-1.91},{"panel":1,"D":13.9,"feh":-1.6,"hi":-1.46,"lo":-1.74},{"panel":1,"D":15.2,"feh":-1.65,"hi":-1.53,"lo":-1.78},{"panel":1,"D":16.7,"feh":-1.86,"hi":-1.63,"lo":-2.08},{"panel":1,"D":18.3,"feh":-2.02,"hi":-1.74,"lo":-2.3},{"panel":1,"D":20.1,"feh":-2.08,"hi":-1.89,"lo":-2.28},{"panel":1,"D":22.0,"feh":-2.12,"hi":-1.82,"lo":-2.42},{"panel":1,"D":24.1,"feh":-2.14,"hi":-1.94,"lo":-2.35},
{"panel":2,"D":2.15,"feh":-0.81,"hi":-0.78,"lo":-0.84},{"panel":2,"D":2.27,"feh":-0.95,"hi":-0.85,"lo":-1.06},{"panel":2,"D":2.54,"feh":-0.95,"hi":-0.86,"lo":-1.06},{"panel":2,"D":2.81,"feh":-0.95,"hi":-0.86,"lo":-1.07},{"panel":2,"D":3.04,"feh":-0.95,"hi":-0.86,"lo":-1.07},{"panel":2,"D":3.27,"feh":-1.12,"hi":-1.04,"lo":-1.31},{"panel":2,"D":3.54,"feh":-1.18,"hi":-1.08,"lo":-1.32},{"panel":2,"D":3.89,"feh":-1.14,"hi":-0.99,"lo":-1.29},{"panel":2,"D":4.23,"feh":-1.08,"hi":-0.92,"lo":-1.23},{"panel":2,"D":4.69,"feh":-1.3,"hi":-1.15,"lo":-1.45},{"panel":2,"D":5.12,"feh":-1.34,"hi":-1.16,"lo":-1.53},{"panel":2,"D":5.58,"feh":-1.48,"hi":-1.33,"lo":-1.65},{"panel":2,"D":6.12,"feh":-1.47,"hi":-1.22,"lo":-1.72},{"panel":2,"D":6.7,"feh":-1.61,"hi":-1.42,"lo":-1.81},{"panel":2,"D":7.35,"feh":-1.62,"hi":-1.4,"lo":-1.83},{"panel":2,"D":8.04,"feh":-1.48,"hi":-1.35,"lo":-1.61},{"panel":2,"D":8.81,"feh":-1.56,"hi":-1.25,"lo":-1.86},{"panel":2,"D":9.66,"feh":-1.62,"hi":-1.42,"lo":-1.81},{"panel":2,"D":10.6,"feh":-1.6,"hi":-1.36,"lo":-1.85},{"panel":2,"D":11.6,"feh":-1.65,"hi":-1.43,"lo":-1.87},{"panel":2,"D":12.66,"feh":-1.62,"hi":-1.39,"lo":-1.86},{"panel":2,"D":13.9,"feh":-1.57,"hi":-1.4,"lo":-1.76},{"panel":2,"D":15.2,"feh":-1.65,"hi":-1.45,"lo":-1.86},{"panel":2,"D":16.7,"feh":-1.81,"hi":-1.56,"lo":-2.08},{"panel":2,"D":18.3,"feh":-2.03,"hi":-1.49,"lo":-2.6},{"panel":2,"D":20.1,"feh":-1.92,"hi":-1.65,"lo":-2.2},{"panel":2,"D":22.0,"feh":-2.01,"hi":-1.74,"lo":-2.28},{"panel":2,"D":24.1,"feh":-1.85,"hi":-1.55,"lo":-2.15},
{"panel":3,"D":2.15,"feh":-0.87,"hi":-0.78,"lo":-0.95},{"panel":3,"D":2.27,"feh":-0.8,"hi":-0.71,"lo":-0.88},{"panel":3,"D":2.54,"feh":-0.81,"hi":-0.72,"lo":-0.88},{"panel":3,"D":2.81,"feh":-0.8,"hi":-0.73,"lo":-0.87},{"panel":3,"D":3.04,"feh":-0.91,"hi":-0.81,"lo":-1.02},{"panel":3,"D":3.27,"feh":-0.88,"hi":-0.79,"lo":-0.98},{"panel":3,"D":3.54,"feh":-0.96,"hi":-0.85,"lo":-1.06},{"panel":3,"D":3.89,"feh":-0.94,"hi":-0.85,"lo":-1.04},{"panel":3,"D":4.23,"feh":-0.92,"hi":-0.81,"lo":-1.05},{"panel":3,"D":4.69,"feh":-1.04,"hi":-0.93,"lo":-1.15},{"panel":3,"D":5.12,"feh":-1.08,"hi":-0.97,"lo":-1.21},{"panel":3,"D":5.58,"feh":-1.24,"hi":-1.11,"lo":-1.39},{"panel":3,"D":6.12,"feh":-1.27,"hi":-1.08,"lo":-1.46},{"panel":3,"D":6.7,"feh":-1.46,"hi":-1.31,"lo":-1.63},{"panel":3,"D":7.35,"feh":-1.32,"hi":-1.15,"lo":-1.49},{"panel":3,"D":8.04,"feh":-1.29,"hi":-1.15,"lo":-1.42},{"panel":3,"D":8.81,"feh":-1.4,"hi":-1.21,"lo":-1.58},{"panel":3,"D":9.66,"feh":-1.43,"hi":-1.27,"lo":-1.6},{"panel":3,"D":10.6,"feh":-1.51,"hi":-1.13,"lo":-1.88},{"panel":3,"D":11.6,"feh":-1.5,"hi":-1.33,"lo":-1.67},{"panel":3,"D":12.66,"feh":-1.59,"hi":-1.31,"lo":-1.87},{"panel":3,"D":13.9,"feh":-1.49,"hi":-1.33,"lo":-1.65},{"panel":3,"D":15.2,"feh":-1.56,"hi":-1.4,"lo":-1.72},{"panel":3,"D":16.7,"feh":-1.77,"hi":-1.49,"lo":-2.06},{"panel":3,"D":18.3,"feh":-2.0,"hi":-1.42,"lo":-2.6},{"panel":3,"D":20.1,"feh":-2.09,"hi":-1.68,"lo":-2.6},{"panel":3,"D":22.0,"feh":-2.15,"hi":-1.74,"lo":-2.6},{"panel":3,"D":24.1,"feh":-2.2,"hi":-1.83,"lo":-2.6},
{"panel":4,"D":2.15,"feh":-0.94,"hi":-0.88,"lo":-1.0},{"panel":4,"D":2.27,"feh":-0.79,"hi":-0.71,"lo":-0.88},{"panel":4,"D":2.46,"feh":-0.82,"hi":-0.74,"lo":-0.89},{"panel":4,"D":2.73,"feh":-1.02,"hi":-0.94,"lo":-1.11},{"panel":4,"D":2.96,"feh":-0.9,"hi":-0.82,"lo":-0.97},{"panel":4,"D":3.27,"feh":-0.89,"hi":-0.81,"lo":-0.98},{"panel":4,"D":3.54,"feh":-0.98,"hi":-0.88,"lo":-1.1},{"panel":4,"D":3.89,"feh":-0.9,"hi":-0.82,"lo":-0.99},{"panel":4,"D":4.23,"feh":-0.83,"hi":-0.75,"lo":-0.92},{"panel":4,"D":4.69,"feh":-1.0,"hi":-0.92,"lo":-1.09},{"panel":4,"D":5.12,"feh":-0.95,"hi":-0.86,"lo":-1.04},{"panel":4,"D":5.58,"feh":-1.16,"hi":-1.01,"lo":-1.3},{"panel":4,"D":6.12,"feh":-1.19,"hi":-1.08,"lo":-1.32},{"panel":4,"D":6.7,"feh":-1.27,"hi":-1.08,"lo":-1.45},{"panel":4,"D":7.35,"feh":-1.32,"hi":-1.17,"lo":-1.51},{"panel":4,"D":8.04,"feh":-1.35,"hi":-1.28,"lo":-1.44},{"panel":4,"D":8.81,"feh":-1.33,"hi":-1.16,"lo":-1.49},{"panel":4,"D":9.66,"feh":-1.42,"hi":-1.28,"lo":-1.56},{"panel":4,"D":10.6,"feh":-1.34,"hi":-1.07,"lo":-1.62},{"panel":4,"D":11.6,"feh":-1.51,"hi":-1.34,"lo":-1.68},{"panel":4,"D":12.66,"feh":-1.55,"hi":-1.34,"lo":-1.78},{"panel":4,"D":13.9,"feh":-1.51,"hi":-1.34,"lo":-1.68},{"panel":4,"D":15.2,"feh":-1.55,"hi":-1.37,"lo":-1.73},{"panel":4,"D":16.7,"feh":-1.7,"hi":-1.2,"lo":-2.18},{"panel":4,"D":18.3,"feh":-2.1,"hi":-1.52,"lo":-2.6},{"panel":4,"D":20.1,"feh":-2.18,"hi":-1.84,"lo":-2.6},{"panel":4,"D":22.0,"feh":-2.2,"hi":-1.64,"lo":-2.6},{"panel":4,"D":24.1,"feh":-2.2,"hi":-1.61,"lo":-2.6}
]
},
"columns": 3,
"spacing": {"row": 0, "column": 83},
"bounds": "flush",
"concat": [
{"width": 199, "height": 166, "resolve": {"axis": {"x": "independent", "y": "independent"}},
 "layer": [
  {"data": {"name": "dens"}, "transform": [{"filter": "datum.panel === 1"}], "mark": {"type": "line", "strokeWidth": 1, "clip": true},
   "encoding": {"x": {"field": "D", "type": "quantitative", "scale": {"domain": [2, 25], "nice": false, "zero": false}, "axis": {"orient": "bottom", "values": [2,3,4,5,6,7,8,9,10,11,12,13,14,15,16,17,18,19,20,21,22,23,24,25], "labels": false, "title": null, "tickDash": {"condition": {"test": "datum.value % 5 === 0", "value": [10, 0]}, "value": [4, 20]}}},
    "y": {"field": "val", "type": "quantitative", "scale": {"domain": [-6.1, -2.1], "nice": false, "zero": false}, "axis": {"orient": "left", "values": [-6.1,-6,-5.9,-5.8,-5.7,-5.6,-5.5,-5.4,-5.3,-5.2,-5.1,-5,-4.9,-4.8,-4.7,-4.6,-4.5,-4.4,-4.3,-4.2,-4.1,-4,-3.9,-3.8,-3.7,-3.6,-3.5,-3.4,-3.3,-3.2,-3.1,-3,-2.9,-2.8,-2.7,-2.6,-2.5,-2.4,-2.3,-2.2,-2.1], "format": ".0f", "labelExpr": "abs(datum.value - round(datum.value)) < 0.001 ? datum.label : ''", "labelPadding": 16, "title": null, "tickDash": {"condition": {"test": "abs(datum.value - round(datum.value)) < 0.001", "value": [10, 0]}, "value": [4, 20]}}},
    "color": {"field": "comp", "type": "nominal", "scale": {"domain": ["thin", "thick", "halo"], "range": ["#ff2c2c", "#2c2cff", "#2aae2a"]}, "legend": null}}},
  {"data": {"name": "denserr"}, "transform": [{"filter": "datum.panel === 1"}], "mark": {"type": "errorbar", "ticks": {"size": 3}, "thickness": 1, "color": "#111", "clip": true},
   "encoding": {"x": {"field": "D", "type": "quantitative", "scale": {"domain": [2, 25], "nice": false, "zero": false}, "axis": {"orient": "top", "values": [2,3,4,5,6,7,8,9,10,11,12,13,14,15,16,17,18,19,20,21,22,23,24,25], "labels": false, "title": null, "tickDash": {"condition": {"test": "datum.value % 5 === 0", "value": [10, 0]}, "value": [4, 20]}}},
    "y": {"field": "val", "type": "quantitative", "scale": {"domain": [-6.1, -2.1], "nice": false, "zero": false}, "axis": {"orient": "right", "values": [-6.1,-6,-5.9,-5.8,-5.7,-5.6,-5.5,-5.4,-5.3,-5.2,-5.1,-5,-4.9,-4.8,-4.7,-4.6,-4.5,-4.4,-4.3,-4.2,-4.1,-4,-3.9,-3.8,-3.7,-3.6,-3.5,-3.4,-3.3,-3.2,-3.1,-3,-2.9,-2.8,-2.7,-2.6,-2.5,-2.4,-2.3,-2.2,-2.1], "labels": false, "title": null, "tickDash": {"condition": {"test": "abs(datum.value - round(datum.value)) < 0.001", "value": [10, 0]}, "value": [4, 20]}}},
    "yError": {"field": "err"}}},
  {"data": {"values": [{"label": "75°<b<85°"}]}, "mark": {"type": "text", "align": "right", "baseline": "middle", "fontSize": 19, "color": "#404040"},
   "encoding": {"x": {"datum": 22.8, "type": "quantitative", "axis": null}, "y": {"datum": -2.68, "type": "quantitative", "axis": null}, "text": {"field": "label"}}}
 ]},
{"width": 199, "height": 166, "resolve": {"axis": {"x": "independent", "y": "independent"}},
 "layer": [
  {"data": {"name": "frac"}, "transform": [{"filter": "datum.panel === 1 && datum.comp !== 'halo'"}], "mark": {"type": "line", "strokeWidth": 1, "clip": true},
   "encoding": {"x": {"field": "D", "type": "quantitative", "scale": {"domain": [2, 25], "nice": false, "zero": false}, "axis": {"orient": "bottom", "values": [2,3,4,5,6,7,8,9,10,11,12,13,14,15,16,17,18,19,20,21,22,23,24,25], "labels": false, "title": null, "tickDash": {"condition": {"test": "datum.value % 5 === 0", "value": [10, 0]}, "value": [4, 20]}}},
    "y": {"field": "val", "type": "quantitative", "scale": {"domain": [0, 1], "nice": false, "zero": false}, "axis": {"orient": "left", "values": [0,0.1,0.2,0.3,0.4,0.5,0.6,0.7,0.8,0.9,1], "format": ".1f", "labelFlush": true, "labelExpr": "datum.value > 0.05 && abs(datum.value*5 - round(datum.value*5)) < 0.001 ? datum.label : ''", "labelPadding": 14, "title": null, "tickDash": {"condition": {"test": "abs(datum.value*5 - round(datum.value*5)) < 0.001", "value": [10, 0]}, "value": [4, 20]}}},
    "color": {"field": "comp", "type": "nominal", "scale": {"domain": ["thin", "thick", "halo"], "range": ["#ff2c2c", "#2c2cff", "#2aae2a"]}, "legend": null}}},
  {"data": {"name": "frac"}, "transform": [{"filter": "datum.panel === 1 && datum.comp === 'halo'"}], "mark": {"type": "line", "strokeWidth": 1, "clip": true},
   "encoding": {"x": {"field": "D", "type": "quantitative", "scale": {"domain": [2, 25], "nice": false, "zero": false}, "axis": {"orient": "top", "values": [2,3,4,5,6,7,8,9,10,11,12,13,14,15,16,17,18,19,20,21,22,23,24,25], "labels": false, "title": null, "tickDash": {"condition": {"test": "datum.value % 5 === 0", "value": [10, 0]}, "value": [4, 20]}}},
    "y": {"field": "val", "type": "quantitative", "scale": {"domain": [0, 1], "nice": false, "zero": false}, "axis": {"orient": "right", "values": [0,0.1,0.2,0.3,0.4,0.5,0.6,0.7,0.8,0.9,1], "labels": false, "title": null, "tickDash": {"condition": {"test": "abs(datum.value*5 - round(datum.value*5)) < 0.001", "value": [10, 0]}, "value": [4, 20]}}},
    "color": {"field": "comp", "type": "nominal", "scale": {"domain": ["thin", "thick", "halo"], "range": ["#ff2c2c", "#2c2cff", "#2aae2a"]}, "legend": null}}}
 ]},
{"width": 199, "height": 166, "resolve": {"axis": {"x": "independent", "y": "independent"}},
 "layer": [
  {"data": {"name": "feh"}, "transform": [{"filter": "datum.panel === 1"}], "mark": {"type": "errorbar", "ticks": {"size": 3}, "thickness": 1, "color": "#111", "clip": true},
   "encoding": {"x": {"field": "D", "type": "quantitative", "scale": {"domain": [2, 25], "nice": false, "zero": false}, "axis": {"orient": "bottom", "values": [2,3,4,5,6,7,8,9,10,11,12,13,14,15,16,17,18,19,20,21,22,23,24,25], "labels": false, "title": null, "tickDash": {"condition": {"test": "datum.value % 5 === 0", "value": [10, 0]}, "value": [4, 20]}}},
    "y": {"field": "hi", "type": "quantitative", "scale": {"domain": [-2.5, -0.6], "nice": false, "zero": false}, "axis": {"orient": "left", "values": [-2.5,-2.4,-2.3,-2.2,-2.1,-2,-1.9,-1.8,-1.7,-1.6,-1.5,-1.4,-1.3,-1.2,-1.1,-1,-0.9,-0.8,-0.7,-0.6], "format": ".1f", "labelExpr": "abs(datum.value*2 - round(datum.value*2)) < 0.001 ? datum.label : ''", "labelPadding": 12, "title": null, "tickDash": {"condition": {"test": "abs(datum.value*2 - round(datum.value*2)) < 0.001", "value": [10, 0]}, "value": [4, 20]}}},
    "y2": {"field": "lo"}}},
  {"data": {"name": "feh"}, "transform": [{"filter": "datum.panel === 1"}], "mark": {"type": "point", "filled": true, "size": 22, "color": "#000", "opacity": 1},
   "encoding": {"x": {"field": "D", "type": "quantitative", "scale": {"domain": [2, 25], "nice": false, "zero": false}, "axis": {"orient": "top", "values": [2,3,4,5,6,7,8,9,10,11,12,13,14,15,16,17,18,19,20,21,22,23,24,25], "labels": false, "title": null, "tickDash": {"condition": {"test": "datum.value % 5 === 0", "value": [10, 0]}, "value": [4, 20]}}},
    "y": {"field": "feh", "type": "quantitative", "scale": {"domain": [-2.5, -0.6], "nice": false, "zero": false}, "axis": {"orient": "right", "values": [-2.5,-2.4,-2.3,-2.2,-2.1,-2,-1.9,-1.8,-1.7,-1.6,-1.5,-1.4,-1.3,-1.2,-1.1,-1,-0.9,-0.8,-0.7,-0.6], "labels": false, "title": null, "tickDash": {"condition": {"test": "abs(datum.value*2 - round(datum.value*2)) < 0.001", "value": [10, 0]}, "value": [4, 20]}}}}}
 ]},

{"width": 199, "height": 166, "resolve": {"axis": {"x": "independent", "y": "independent"}},
 "layer": [
  {"data": {"name": "dens"}, "transform": [{"filter": "datum.panel === 2"}], "mark": {"type": "line", "strokeWidth": 1, "clip": true},
   "encoding": {"x": {"field": "D", "type": "quantitative", "scale": {"domain": [2, 25], "nice": false, "zero": false}, "axis": {"orient": "bottom", "values": [2,3,4,5,6,7,8,9,10,11,12,13,14,15,16,17,18,19,20,21,22,23,24,25], "labels": false, "title": null, "tickDash": {"condition": {"test": "datum.value % 5 === 0", "value": [10, 0]}, "value": [4, 20]}}},
    "y": {"field": "val", "type": "quantitative", "scale": {"domain": [-6.1, -2.1], "nice": false, "zero": false}, "axis": {"orient": "left", "values": [-6.1,-6,-5.9,-5.8,-5.7,-5.6,-5.5,-5.4,-5.3,-5.2,-5.1,-5,-4.9,-4.8,-4.7,-4.6,-4.5,-4.4,-4.3,-4.2,-4.1,-4,-3.9,-3.8,-3.7,-3.6,-3.5,-3.4,-3.3,-3.2,-3.1,-3,-2.9,-2.8,-2.7,-2.6,-2.5,-2.4,-2.3,-2.2,-2.1], "format": ".0f", "labelExpr": "abs(datum.value - round(datum.value)) < 0.001 ? datum.label : ''", "labelPadding": 16, "title": "log(ρ (M⊙ pc⁻³))", "titleY": 166, "titlePadding": 6, "tickDash": {"condition": {"test": "abs(datum.value - round(datum.value)) < 0.001", "value": [10, 0]}, "value": [4, 20]}}},
    "color": {"field": "comp", "type": "nominal", "scale": {"domain": ["thin", "thick", "halo"], "range": ["#ff2c2c", "#2c2cff", "#2aae2a"]}, "legend": null}}},
  {"data": {"name": "denserr"}, "transform": [{"filter": "datum.panel === 2"}], "mark": {"type": "errorbar", "ticks": {"size": 3}, "thickness": 1, "color": "#111", "clip": true},
   "encoding": {"x": {"field": "D", "type": "quantitative", "scale": {"domain": [2, 25], "nice": false, "zero": false}, "axis": {"orient": "top", "values": [2,3,4,5,6,7,8,9,10,11,12,13,14,15,16,17,18,19,20,21,22,23,24,25], "labels": false, "title": null, "tickDash": {"condition": {"test": "datum.value % 5 === 0", "value": [10, 0]}, "value": [4, 20]}}},
    "y": {"field": "val", "type": "quantitative", "scale": {"domain": [-6.1, -2.1], "nice": false, "zero": false}, "axis": {"orient": "right", "values": [-6.1,-6,-5.9,-5.8,-5.7,-5.6,-5.5,-5.4,-5.3,-5.2,-5.1,-5,-4.9,-4.8,-4.7,-4.6,-4.5,-4.4,-4.3,-4.2,-4.1,-4,-3.9,-3.8,-3.7,-3.6,-3.5,-3.4,-3.3,-3.2,-3.1,-3,-2.9,-2.8,-2.7,-2.6,-2.5,-2.4,-2.3,-2.2,-2.1], "labels": false, "title": null, "tickDash": {"condition": {"test": "abs(datum.value - round(datum.value)) < 0.001", "value": [10, 0]}, "value": [4, 20]}}},
    "yError": {"field": "err"}}},
  {"data": {"values": [{"label": "60°<b<65°"}]}, "mark": {"type": "text", "align": "right", "baseline": "middle", "fontSize": 19, "color": "#404040"},
   "encoding": {"x": {"datum": 22.8, "type": "quantitative", "axis": null}, "y": {"datum": -2.68, "type": "quantitative", "axis": null}, "text": {"field": "label"}}}
 ]},
{"width": 199, "height": 166, "resolve": {"axis": {"x": "independent", "y": "independent"}},
 "layer": [
  {"data": {"name": "frac"}, "transform": [{"filter": "datum.panel === 2 && datum.comp !== 'halo'"}], "mark": {"type": "line", "strokeWidth": 1, "clip": true},
   "encoding": {"x": {"field": "D", "type": "quantitative", "scale": {"domain": [2, 25], "nice": false, "zero": false}, "axis": {"orient": "bottom", "values": [2,3,4,5,6,7,8,9,10,11,12,13,14,15,16,17,18,19,20,21,22,23,24,25], "labels": false, "title": null, "tickDash": {"condition": {"test": "datum.value % 5 === 0", "value": [10, 0]}, "value": [4, 20]}}},
    "y": {"field": "val", "type": "quantitative", "scale": {"domain": [0, 1], "nice": false, "zero": false}, "axis": {"orient": "left", "values": [0,0.1,0.2,0.3,0.4,0.5,0.6,0.7,0.8,0.9,1], "format": ".1f", "labelFlush": true, "labelExpr": "datum.value > 0.05 && abs(datum.value*5 - round(datum.value*5)) < 0.001 ? datum.label : ''", "labelPadding": 14, "title": "Population fraction", "titleY": 166, "titlePadding": 7, "tickDash": {"condition": {"test": "abs(datum.value*5 - round(datum.value*5)) < 0.001", "value": [10, 0]}, "value": [4, 20]}}},
    "color": {"field": "comp", "type": "nominal", "scale": {"domain": ["thin", "thick", "halo"], "range": ["#ff2c2c", "#2c2cff", "#2aae2a"]}, "legend": null}}},
  {"data": {"name": "frac"}, "transform": [{"filter": "datum.panel === 2 && datum.comp === 'halo'"}], "mark": {"type": "line", "strokeWidth": 1, "clip": true},
   "encoding": {"x": {"field": "D", "type": "quantitative", "scale": {"domain": [2, 25], "nice": false, "zero": false}, "axis": {"orient": "top", "values": [2,3,4,5,6,7,8,9,10,11,12,13,14,15,16,17,18,19,20,21,22,23,24,25], "labels": false, "title": null, "tickDash": {"condition": {"test": "datum.value % 5 === 0", "value": [10, 0]}, "value": [4, 20]}}},
    "y": {"field": "val", "type": "quantitative", "scale": {"domain": [0, 1], "nice": false, "zero": false}, "axis": {"orient": "right", "values": [0,0.1,0.2,0.3,0.4,0.5,0.6,0.7,0.8,0.9,1], "labels": false, "title": null, "tickDash": {"condition": {"test": "abs(datum.value*5 - round(datum.value*5)) < 0.001", "value": [10, 0]}, "value": [4, 20]}}},
    "color": {"field": "comp", "type": "nominal", "scale": {"domain": ["thin", "thick", "halo"], "range": ["#ff2c2c", "#2c2cff", "#2aae2a"]}, "legend": null}}}
 ]},
{"width": 199, "height": 166, "resolve": {"axis": {"x": "independent", "y": "independent"}},
 "layer": [
  {"data": {"name": "feh"}, "transform": [{"filter": "datum.panel === 2"}], "mark": {"type": "errorbar", "ticks": {"size": 3}, "thickness": 1, "color": "#111", "clip": true},
   "encoding": {"x": {"field": "D", "type": "quantitative", "scale": {"domain": [2, 25], "nice": false, "zero": false}, "axis": {"orient": "bottom", "values": [2,3,4,5,6,7,8,9,10,11,12,13,14,15,16,17,18,19,20,21,22,23,24,25], "labels": false, "title": null, "tickDash": {"condition": {"test": "datum.value % 5 === 0", "value": [10, 0]}, "value": [4, 20]}}},
    "y": {"field": "hi", "type": "quantitative", "scale": {"domain": [-2.5, -0.6], "nice": false, "zero": false}, "axis": {"orient": "left", "values": [-2.5,-2.4,-2.3,-2.2,-2.1,-2,-1.9,-1.8,-1.7,-1.6,-1.5,-1.4,-1.3,-1.2,-1.1,-1,-0.9,-0.8,-0.7,-0.6], "format": ".1f", "labelExpr": "abs(datum.value*2 - round(datum.value*2)) < 0.001 ? datum.label : ''", "labelPadding": 12, "title": "<[Fe/H]>", "titleY": 166, "titlePadding": -6, "tickDash": {"condition": {"test": "abs(datum.value*2 - round(datum.value*2)) < 0.001", "value": [10, 0]}, "value": [4, 20]}}},
    "y2": {"field": "lo"}}},
  {"data": {"name": "feh"}, "transform": [{"filter": "datum.panel === 2"}], "mark": {"type": "point", "filled": true, "size": 22, "color": "#000", "opacity": 1},
   "encoding": {"x": {"field": "D", "type": "quantitative", "scale": {"domain": [2, 25], "nice": false, "zero": false}, "axis": {"orient": "top", "values": [2,3,4,5,6,7,8,9,10,11,12,13,14,15,16,17,18,19,20,21,22,23,24,25], "labels": false, "title": null, "tickDash": {"condition": {"test": "datum.value % 5 === 0", "value": [10, 0]}, "value": [4, 20]}}},
    "y": {"field": "feh", "type": "quantitative", "scale": {"domain": [-2.5, -0.6], "nice": false, "zero": false}, "axis": {"orient": "right", "values": [-2.5,-2.4,-2.3,-2.2,-2.1,-2,-1.9,-1.8,-1.7,-1.6,-1.5,-1.4,-1.3,-1.2,-1.1,-1,-0.9,-0.8,-0.7,-0.6], "labels": false, "title": null, "tickDash": {"condition": {"test": "abs(datum.value*2 - round(datum.value*2)) < 0.001", "value": [10, 0]}, "value": [4, 20]}}}}}
 ]},

{"width": 199, "height": 166, "resolve": {"axis": {"x": "independent", "y": "independent"}},
 "layer": [
  {"data": {"name": "dens"}, "transform": [{"filter": "datum.panel === 3"}], "mark": {"type": "line", "strokeWidth": 1, "clip": true},
   "encoding": {"x": {"field": "D", "type": "quantitative", "scale": {"domain": [2, 25], "nice": false, "zero": false}, "axis": {"orient": "bottom", "values": [2,3,4,5,6,7,8,9,10,11,12,13,14,15,16,17,18,19,20,21,22,23,24,25], "labels": false, "title": null, "tickDash": {"condition": {"test": "datum.value % 5 === 0", "value": [10, 0]}, "value": [4, 20]}}},
    "y": {"field": "val", "type": "quantitative", "scale": {"domain": [-6.1, -2.1], "nice": false, "zero": false}, "axis": {"orient": "left", "values": [-6.1,-6,-5.9,-5.8,-5.7,-5.6,-5.5,-5.4,-5.3,-5.2,-5.1,-5,-4.9,-4.8,-4.7,-4.6,-4.5,-4.4,-4.3,-4.2,-4.1,-4,-3.9,-3.8,-3.7,-3.6,-3.5,-3.4,-3.3,-3.2,-3.1,-3,-2.9,-2.8,-2.7,-2.6,-2.5,-2.4,-2.3,-2.2,-2.1], "format": ".0f", "labelExpr": "abs(datum.value - round(datum.value)) < 0.001 ? datum.label : ''", "labelPadding": 16, "title": null, "tickDash": {"condition": {"test": "abs(datum.value - round(datum.value)) < 0.001", "value": [10, 0]}, "value": [4, 20]}}},
    "color": {"field": "comp", "type": "nominal", "scale": {"domain": ["thin", "thick", "halo"], "range": ["#ff2c2c", "#2c2cff", "#2aae2a"]}, "legend": null}}},
  {"data": {"name": "denserr"}, "transform": [{"filter": "datum.panel === 3"}], "mark": {"type": "errorbar", "ticks": {"size": 3}, "thickness": 1, "color": "#111", "clip": true},
   "encoding": {"x": {"field": "D", "type": "quantitative", "scale": {"domain": [2, 25], "nice": false, "zero": false}, "axis": {"orient": "top", "values": [2,3,4,5,6,7,8,9,10,11,12,13,14,15,16,17,18,19,20,21,22,23,24,25], "labels": false, "title": null, "tickDash": {"condition": {"test": "datum.value % 5 === 0", "value": [10, 0]}, "value": [4, 20]}}},
    "y": {"field": "val", "type": "quantitative", "scale": {"domain": [-6.1, -2.1], "nice": false, "zero": false}, "axis": {"orient": "right", "values": [-6.1,-6,-5.9,-5.8,-5.7,-5.6,-5.5,-5.4,-5.3,-5.2,-5.1,-5,-4.9,-4.8,-4.7,-4.6,-4.5,-4.4,-4.3,-4.2,-4.1,-4,-3.9,-3.8,-3.7,-3.6,-3.5,-3.4,-3.3,-3.2,-3.1,-3,-2.9,-2.8,-2.7,-2.6,-2.5,-2.4,-2.3,-2.2,-2.1], "labels": false, "title": null, "tickDash": {"condition": {"test": "abs(datum.value - round(datum.value)) < 0.001", "value": [10, 0]}, "value": [4, 20]}}},
    "yError": {"field": "err"}}},
  {"data": {"values": [{"label": "40°<b<45°"}]}, "mark": {"type": "text", "align": "right", "baseline": "middle", "fontSize": 19, "color": "#404040"},
   "encoding": {"x": {"datum": 22.8, "type": "quantitative", "axis": null}, "y": {"datum": -2.68, "type": "quantitative", "axis": null}, "text": {"field": "label"}}}
 ]},
{"width": 199, "height": 166, "resolve": {"axis": {"x": "independent", "y": "independent"}},
 "layer": [
  {"data": {"name": "frac"}, "transform": [{"filter": "datum.panel === 3 && datum.comp !== 'halo'"}], "mark": {"type": "line", "strokeWidth": 1, "clip": true},
   "encoding": {"x": {"field": "D", "type": "quantitative", "scale": {"domain": [2, 25], "nice": false, "zero": false}, "axis": {"orient": "bottom", "values": [2,3,4,5,6,7,8,9,10,11,12,13,14,15,16,17,18,19,20,21,22,23,24,25], "labels": false, "title": null, "tickDash": {"condition": {"test": "datum.value % 5 === 0", "value": [10, 0]}, "value": [4, 20]}}},
    "y": {"field": "val", "type": "quantitative", "scale": {"domain": [0, 1], "nice": false, "zero": false}, "axis": {"orient": "left", "values": [0,0.1,0.2,0.3,0.4,0.5,0.6,0.7,0.8,0.9,1], "format": ".1f", "labelFlush": true, "labelExpr": "datum.value > 0.05 && abs(datum.value*5 - round(datum.value*5)) < 0.001 ? datum.label : ''", "labelPadding": 14, "title": null, "tickDash": {"condition": {"test": "abs(datum.value*5 - round(datum.value*5)) < 0.001", "value": [10, 0]}, "value": [4, 20]}}},
    "color": {"field": "comp", "type": "nominal", "scale": {"domain": ["thin", "thick", "halo"], "range": ["#ff2c2c", "#2c2cff", "#2aae2a"]}, "legend": null}}},
  {"data": {"name": "frac"}, "transform": [{"filter": "datum.panel === 3 && datum.comp === 'halo'"}], "mark": {"type": "line", "strokeWidth": 1, "clip": true},
   "encoding": {"x": {"field": "D", "type": "quantitative", "scale": {"domain": [2, 25], "nice": false, "zero": false}, "axis": {"orient": "top", "values": [2,3,4,5,6,7,8,9,10,11,12,13,14,15,16,17,18,19,20,21,22,23,24,25], "labels": false, "title": null, "tickDash": {"condition": {"test": "datum.value % 5 === 0", "value": [10, 0]}, "value": [4, 20]}}},
    "y": {"field": "val", "type": "quantitative", "scale": {"domain": [0, 1], "nice": false, "zero": false}, "axis": {"orient": "right", "values": [0,0.1,0.2,0.3,0.4,0.5,0.6,0.7,0.8,0.9,1], "labels": false, "title": null, "tickDash": {"condition": {"test": "abs(datum.value*5 - round(datum.value*5)) < 0.001", "value": [10, 0]}, "value": [4, 20]}}},
    "color": {"field": "comp", "type": "nominal", "scale": {"domain": ["thin", "thick", "halo"], "range": ["#ff2c2c", "#2c2cff", "#2aae2a"]}, "legend": null}}}
 ]},
{"width": 199, "height": 166, "resolve": {"axis": {"x": "independent", "y": "independent"}},
 "layer": [
  {"data": {"name": "feh"}, "transform": [{"filter": "datum.panel === 3"}], "mark": {"type": "errorbar", "ticks": {"size": 3}, "thickness": 1, "color": "#111", "clip": true},
   "encoding": {"x": {"field": "D", "type": "quantitative", "scale": {"domain": [2, 25], "nice": false, "zero": false}, "axis": {"orient": "bottom", "values": [2,3,4,5,6,7,8,9,10,11,12,13,14,15,16,17,18,19,20,21,22,23,24,25], "labels": false, "title": null, "tickDash": {"condition": {"test": "datum.value % 5 === 0", "value": [10, 0]}, "value": [4, 20]}}},
    "y": {"field": "hi", "type": "quantitative", "scale": {"domain": [-2.5, -0.6], "nice": false, "zero": false}, "axis": {"orient": "left", "values": [-2.5,-2.4,-2.3,-2.2,-2.1,-2,-1.9,-1.8,-1.7,-1.6,-1.5,-1.4,-1.3,-1.2,-1.1,-1,-0.9,-0.8,-0.7,-0.6], "format": ".1f", "labelExpr": "abs(datum.value*2 - round(datum.value*2)) < 0.001 ? datum.label : ''", "labelPadding": 12, "title": null, "tickDash": {"condition": {"test": "abs(datum.value*2 - round(datum.value*2)) < 0.001", "value": [10, 0]}, "value": [4, 20]}}},
    "y2": {"field": "lo"}}},
  {"data": {"name": "feh"}, "transform": [{"filter": "datum.panel === 3"}], "mark": {"type": "point", "filled": true, "size": 22, "color": "#000", "opacity": 1},
   "encoding": {"x": {"field": "D", "type": "quantitative", "scale": {"domain": [2, 25], "nice": false, "zero": false}, "axis": {"orient": "top", "values": [2,3,4,5,6,7,8,9,10,11,12,13,14,15,16,17,18,19,20,21,22,23,24,25], "labels": false, "title": null, "tickDash": {"condition": {"test": "datum.value % 5 === 0", "value": [10, 0]}, "value": [4, 20]}}},
    "y": {"field": "feh", "type": "quantitative", "scale": {"domain": [-2.5, -0.6], "nice": false, "zero": false}, "axis": {"orient": "right", "values": [-2.5,-2.4,-2.3,-2.2,-2.1,-2,-1.9,-1.8,-1.7,-1.6,-1.5,-1.4,-1.3,-1.2,-1.1,-1,-0.9,-0.8,-0.7,-0.6], "labels": false, "title": null, "tickDash": {"condition": {"test": "abs(datum.value*2 - round(datum.value*2)) < 0.001", "value": [10, 0]}, "value": [4, 20]}}}}}
 ]},

{"width": 199, "height": 166, "resolve": {"axis": {"x": "independent", "y": "independent"}},
 "layer": [
  {"data": {"name": "dens"}, "transform": [{"filter": "datum.panel === 4"}], "mark": {"type": "line", "strokeWidth": 1, "clip": true},
   "encoding": {"x": {"field": "D", "type": "quantitative", "scale": {"domain": [2, 25], "nice": false, "zero": false}, "axis": {"orient": "bottom", "values": [2,3,4,5,6,7,8,9,10,11,12,13,14,15,16,17,18,19,20,21,22,23,24,25], "labelExpr": "datum.value % 5 === 0 ? datum.label : ''", "labelPadding": 19, "title": "D (kpc)", "titlePadding": 11, "tickDash": {"condition": {"test": "datum.value % 5 === 0", "value": [10, 0]}, "value": [4, 20]}}},
    "y": {"field": "val", "type": "quantitative", "scale": {"domain": [-6.1, -2.1], "nice": false, "zero": false}, "axis": {"orient": "left", "values": [-6.1,-6,-5.9,-5.8,-5.7,-5.6,-5.5,-5.4,-5.3,-5.2,-5.1,-5,-4.9,-4.8,-4.7,-4.6,-4.5,-4.4,-4.3,-4.2,-4.1,-4,-3.9,-3.8,-3.7,-3.6,-3.5,-3.4,-3.3,-3.2,-3.1,-3,-2.9,-2.8,-2.7,-2.6,-2.5,-2.4,-2.3,-2.2,-2.1], "format": ".0f", "labelExpr": "abs(datum.value - round(datum.value)) < 0.001 ? datum.label : ''", "labelPadding": 16, "title": null, "tickDash": {"condition": {"test": "abs(datum.value - round(datum.value)) < 0.001", "value": [10, 0]}, "value": [4, 20]}}},
    "color": {"field": "comp", "type": "nominal", "scale": {"domain": ["thin", "thick", "halo"], "range": ["#ff2c2c", "#2c2cff", "#2aae2a"]}, "legend": null}}},
  {"data": {"name": "denserr"}, "transform": [{"filter": "datum.panel === 4"}], "mark": {"type": "errorbar", "ticks": {"size": 3}, "thickness": 1, "color": "#111", "clip": true},
   "encoding": {"x": {"field": "D", "type": "quantitative", "scale": {"domain": [2, 25], "nice": false, "zero": false}, "axis": {"orient": "top", "values": [2,3,4,5,6,7,8,9,10,11,12,13,14,15,16,17,18,19,20,21,22,23,24,25], "labels": false, "title": null, "tickDash": {"condition": {"test": "datum.value % 5 === 0", "value": [10, 0]}, "value": [4, 20]}}},
    "y": {"field": "val", "type": "quantitative", "scale": {"domain": [-6.1, -2.1], "nice": false, "zero": false}, "axis": {"orient": "right", "values": [-6.1,-6,-5.9,-5.8,-5.7,-5.6,-5.5,-5.4,-5.3,-5.2,-5.1,-5,-4.9,-4.8,-4.7,-4.6,-4.5,-4.4,-4.3,-4.2,-4.1,-4,-3.9,-3.8,-3.7,-3.6,-3.5,-3.4,-3.3,-3.2,-3.1,-3,-2.9,-2.8,-2.7,-2.6,-2.5,-2.4,-2.3,-2.2,-2.1], "labels": false, "title": null, "tickDash": {"condition": {"test": "abs(datum.value - round(datum.value)) < 0.001", "value": [10, 0]}, "value": [4, 20]}}},
    "yError": {"field": "err"}}},
  {"data": {"values": [{"label": "20°<b<25°"}]}, "mark": {"type": "text", "align": "right", "baseline": "middle", "fontSize": 19, "color": "#404040"},
   "encoding": {"x": {"datum": 22.8, "type": "quantitative", "axis": null}, "y": {"datum": -2.68, "type": "quantitative", "axis": null}, "text": {"field": "label"}}}
 ]},
{"width": 199, "height": 166, "resolve": {"axis": {"x": "independent", "y": "independent"}},
 "layer": [
  {"data": {"name": "frac"}, "transform": [{"filter": "datum.panel === 4 && datum.comp !== 'halo'"}], "mark": {"type": "line", "strokeWidth": 1, "clip": true},
   "encoding": {"x": {"field": "D", "type": "quantitative", "scale": {"domain": [2, 25], "nice": false, "zero": false}, "axis": {"orient": "bottom", "values": [2,3,4,5,6,7,8,9,10,11,12,13,14,15,16,17,18,19,20,21,22,23,24,25], "labelExpr": "datum.value % 5 === 0 ? datum.label : ''", "labelPadding": 19, "title": "D (kpc)", "titlePadding": 11, "tickDash": {"condition": {"test": "datum.value % 5 === 0", "value": [10, 0]}, "value": [4, 20]}}},
    "y": {"field": "val", "type": "quantitative", "scale": {"domain": [0, 1], "nice": false, "zero": false}, "axis": {"orient": "left", "values": [0,0.1,0.2,0.3,0.4,0.5,0.6,0.7,0.8,0.9,1], "format": ".1f", "labelFlush": true, "labelExpr": "datum.value > 0.05 && abs(datum.value*5 - round(datum.value*5)) < 0.001 ? datum.label : ''", "labelPadding": 14, "title": null, "tickDash": {"condition": {"test": "abs(datum.value*5 - round(datum.value*5)) < 0.001", "value": [10, 0]}, "value": [4, 20]}}},
    "color": {"field": "comp", "type": "nominal", "scale": {"domain": ["thin", "thick", "halo"], "range": ["#ff2c2c", "#2c2cff", "#2aae2a"]}, "legend": null}}},
  {"data": {"name": "frac"}, "transform": [{"filter": "datum.panel === 4 && datum.comp === 'halo'"}], "mark": {"type": "line", "strokeWidth": 1, "clip": true},
   "encoding": {"x": {"field": "D", "type": "quantitative", "scale": {"domain": [2, 25], "nice": false, "zero": false}, "axis": {"orient": "top", "values": [2,3,4,5,6,7,8,9,10,11,12,13,14,15,16,17,18,19,20,21,22,23,24,25], "labels": false, "title": null, "tickDash": {"condition": {"test": "datum.value % 5 === 0", "value": [10, 0]}, "value": [4, 20]}}},
    "y": {"field": "val", "type": "quantitative", "scale": {"domain": [0, 1], "nice": false, "zero": false}, "axis": {"orient": "right", "values": [0,0.1,0.2,0.3,0.4,0.5,0.6,0.7,0.8,0.9,1], "labels": false, "title": null, "tickDash": {"condition": {"test": "abs(datum.value*5 - round(datum.value*5)) < 0.001", "value": [10, 0]}, "value": [4, 20]}}},
    "color": {"field": "comp", "type": "nominal", "scale": {"domain": ["thin", "thick", "halo"], "range": ["#ff2c2c", "#2c2cff", "#2aae2a"]}, "legend": null}}}
 ]},
{"width": 199, "height": 166, "resolve": {"axis": {"x": "independent", "y": "independent"}},
 "layer": [
  {"data": {"name": "feh"}, "transform": [{"filter": "datum.panel === 4"}], "mark": {"type": "errorbar", "ticks": {"size": 3}, "thickness": 1, "color": "#111", "clip": true},
   "encoding": {"x": {"field": "D", "type": "quantitative", "scale": {"domain": [2, 25], "nice": false, "zero": false}, "axis": {"orient": "bottom", "values": [2,3,4,5,6,7,8,9,10,11,12,13,14,15,16,17,18,19,20,21,22,23,24,25], "labelExpr": "datum.value % 5 === 0 ? datum.label : ''", "labelPadding": 19, "title": "D (kpc)", "titlePadding": 11, "tickDash": {"condition": {"test": "datum.value % 5 === 0", "value": [10, 0]}, "value": [4, 20]}}},
    "y": {"field": "hi", "type": "quantitative", "scale": {"domain": [-2.5, -0.6], "nice": false, "zero": false}, "axis": {"orient": "left", "values": [-2.5,-2.4,-2.3,-2.2,-2.1,-2,-1.9,-1.8,-1.7,-1.6,-1.5,-1.4,-1.3,-1.2,-1.1,-1,-0.9,-0.8,-0.7,-0.6], "format": ".1f", "labelExpr": "abs(datum.value*2 - round(datum.value*2)) < 0.001 ? datum.label : ''", "labelPadding": 12, "title": null, "tickDash": {"condition": {"test": "abs(datum.value*2 - round(datum.value*2)) < 0.001", "value": [10, 0]}, "value": [4, 20]}}},
    "y2": {"field": "lo"}}},
  {"data": {"name": "feh"}, "transform": [{"filter": "datum.panel === 4"}], "mark": {"type": "point", "filled": true, "size": 22, "color": "#000", "opacity": 1},
   "encoding": {"x": {"field": "D", "type": "quantitative", "scale": {"domain": [2, 25], "nice": false, "zero": false}, "axis": {"orient": "top", "values": [2,3,4,5,6,7,8,9,10,11,12,13,14,15,16,17,18,19,20,21,22,23,24,25], "labels": false, "title": null, "tickDash": {"condition": {"test": "datum.value % 5 === 0", "value": [10, 0]}, "value": [4, 20]}}},
    "y": {"field": "feh", "type": "quantitative", "scale": {"domain": [-2.5, -0.6], "nice": false, "zero": false}, "axis": {"orient": "right", "values": [-2.5,-2.4,-2.3,-2.2,-2.1,-2,-1.9,-1.8,-1.7,-1.6,-1.5,-1.4,-1.3,-1.2,-1.1,-1,-0.9,-0.8,-0.7,-0.6], "labels": false, "title": null, "tickDash": {"condition": {"test": "abs(datum.value*2 - round(datum.value*2)) < 0.001", "value": [10, 0]}, "value": [4, 20]}}}}}
 ]}
]
}
